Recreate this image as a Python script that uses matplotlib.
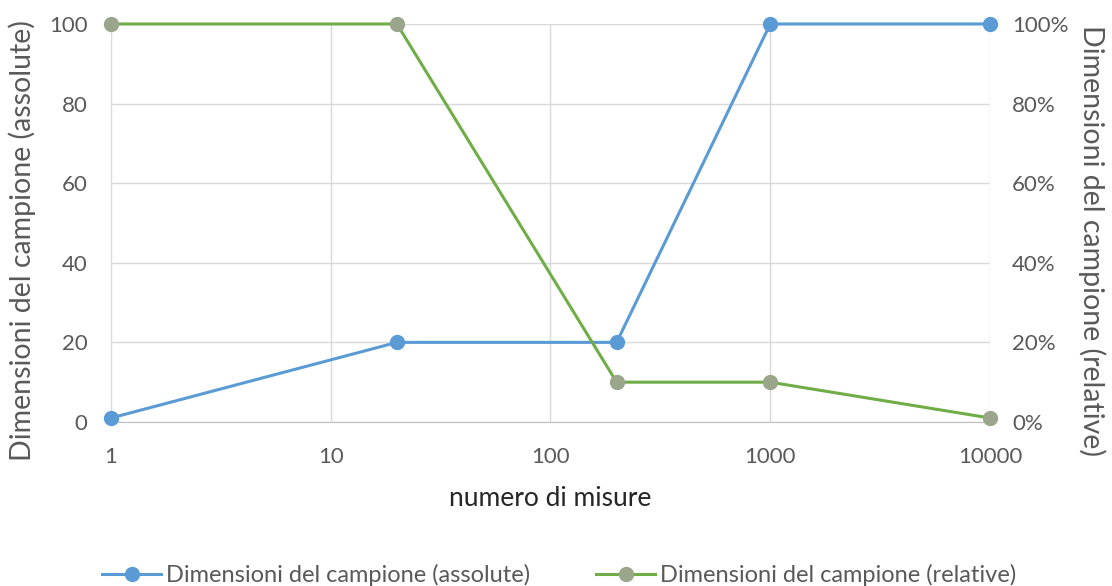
import numpy as np
import matplotlib.pyplot as plt
from matplotlib.ticker import FixedLocator, FuncFormatter

plt.rcParams['font.family'] = ['Lato', 'DejaVu Sans']

# data
misure = [1, 20, 200, 1000, 10000]
assolute = [1, 20, 20, 100, 100]
relative = [1.00, 1.00, 0.10, 0.10, 0.01]

x_ticks = [1, 10, 100, 1000, 10000]
x_labels = ['1', '10', '100', '1000', '10000']

grey = '#595959'
blue = '#5B9BD5'
green = '#70AD47'
green_marker = '#9AA58C'

fig = plt.figure(figsize=(11.12, 5.86), dpi=100)
ax = fig.add_axes([0.0998, 0.2799, 0.7905, 0.6792])
ax2 = ax.twinx()

ax.plot(misure, assolute, color=blue, lw=2.2, marker='o', ms=10, clip_on=False,
        mfc=blue, mec=blue, label='Dimensioni del campione (assolute)', zorder=3)
ax2.plot(misure, relative, color=green, lw=2.2, marker='o', ms=10, clip_on=False,
         mfc=green_marker, mec=green_marker, label='Dimensioni del campione (relative)', zorder=3)

ax.set_xscale('log')
ax.set_xlim(1, 10000)
ax.set_ylim(0, 100)
ax2.set_ylim(0, 1)
ax.xaxis.set_major_locator(FixedLocator(x_ticks))
ax.xaxis.set_minor_locator(FixedLocator([]))
ax.set_xticklabels(x_labels)
ax.set_yticks([0, 20, 40, 60, 80, 100])
ax2.set_yticks([0, 0.2, 0.4, 0.6, 0.8, 1.0])
ax2.yaxis.set_major_formatter(FuncFormatter(lambda v, p: f'{v*100:.0f}%'))

ax.grid(True, color='#D9D9D9', lw=1)
ax.set_axisbelow(True)
for a in (ax, ax2):
    for s in a.spines.values():
        s.set_visible(False)
    a.tick_params(length=0, colors=grey, labelsize=16)
ax.spines['bottom'].set_visible(True)
ax.spines['bottom'].set_color('#BFBFBF')
ax.tick_params(axis='y', pad=17)
ax.tick_params(axis='x', pad=18)
ax2.tick_params(axis='y', pad=16)

ax.set_xlabel('numero di misure', color='#262626', fontsize=19, labelpad=14)
ax.set_ylabel('Dimensioni del campione (assolute)', color=grey, fontsize=20.5)
ax2.set_ylabel('Dimensioni del campione (relative)', color=grey, fontsize=20.5,
               rotation=270)
ax.yaxis.set_label_coords(-0.085, 0.455)
ax2.yaxis.set_label_coords(1.132, 0.455)

h1, l1 = ax.get_legend_handles_labels()
h2, l2 = ax2.get_legend_handles_labels()
leg = fig.legend(h1 + h2, l1 + l2, loc='center', bbox_to_anchor=(0.503, 0.019),
                 ncol=2, frameon=False, fontsize=17, columnspacing=2.8,
                 handlelength=2.5, handletextpad=0.2, markerscale=1.0)
for t in leg.get_texts():
    t.set_color(grey)

fig.savefig('out.png', dpi=100)
